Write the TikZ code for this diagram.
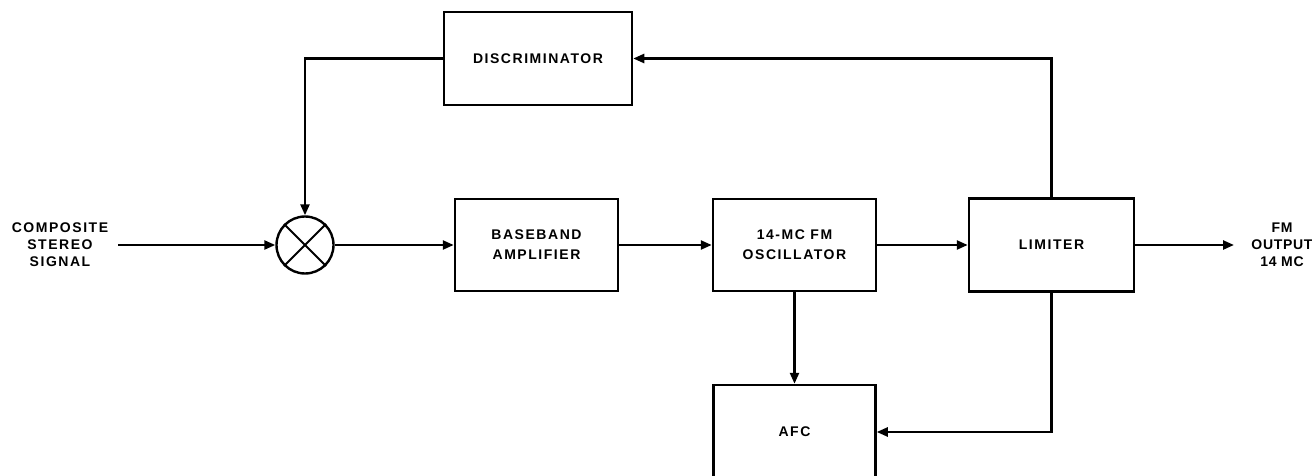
\documentclass[tikz,border=0pt]{standalone}
\usepackage{fontspec}
\setmainfont[LetterSpace=11]{Liberation Sans}
\newfontfamily\tightfont[LetterSpace=5]{Liberation Sans}
\usetikzlibrary{arrows.meta}
\begin{document}
\begin{tikzpicture}[x=1pt,y=-1pt,
  blk/.style={draw, line width=2.5pt, inner sep=0pt, align=center,
    font=\fontsize{14}{20}\selectfont\bfseries},
  lbl/.style={inner sep=0pt, align=center, font=\fontsize{14}{17}\selectfont\bfseries},
  conn/.style={line width=2.4pt},
  arr/.style={conn, -{Triangle[length=11pt,width=9pt]}}]
\useasboundingbox (0,0) rectangle (1312,476);
\clip (0,0) rectangle (1312,476);
% blocks
\node[blk, minimum width=188pt, minimum height=93pt] (disc) at (538,58.5) {DISCRIMINATOR};
\node[blk, minimum width=163pt, minimum height=92pt] (base) at (536.5,245) {BASEBAND\\AMPLIFIER};
\node[blk, minimum width=163pt, minimum height=92pt] (osc) at (794.5,245) {14-MC FM\\OSCILLATOR};
\node[blk, minimum width=165pt, minimum height=93pt] (lim) at (1051.5,245) {LIMITER};
\node[blk, minimum width=162pt, minimum height=94pt] (afc) at (794.5,432) {AFC};
% mixer
\node[draw, circle, line width=2.4pt, minimum size=57pt, inner sep=0pt] (mix) at (305,245) {};
\draw[line width=2pt] (mix.45) -- (mix.225) (mix.135) -- (mix.315);
% labels
\node[lbl] (comp) at (60,245) {COMPOSITE\\STEREO\\SIGNAL};
\node[lbl, font=\fontsize{14}{17}\selectfont\bfseries\tightfont] (fmout) at (1282,245) {FM\\OUTPUT\\14 MC};
\coordinate (in) at (118,245);
\coordinate (out) at (1234,245);
% connectors
\draw[arr] (in) -- (mix.west);
\draw[arr] (mix.east) -- (base.west);
\draw[arr] (base.east) -- (osc.west);
\draw[arr] (osc.east) -- (lim.west);
\draw[arr] (lim.east) -- (out);
\draw[arr] (lim.north) |- (disc.east);
\draw[arr] (disc.west) -| (mix.north);
\draw[arr] (osc.south) -- (afc.north);
\draw[arr] (lim.south) |- (afc.east);
\end{tikzpicture}
\end{document}
